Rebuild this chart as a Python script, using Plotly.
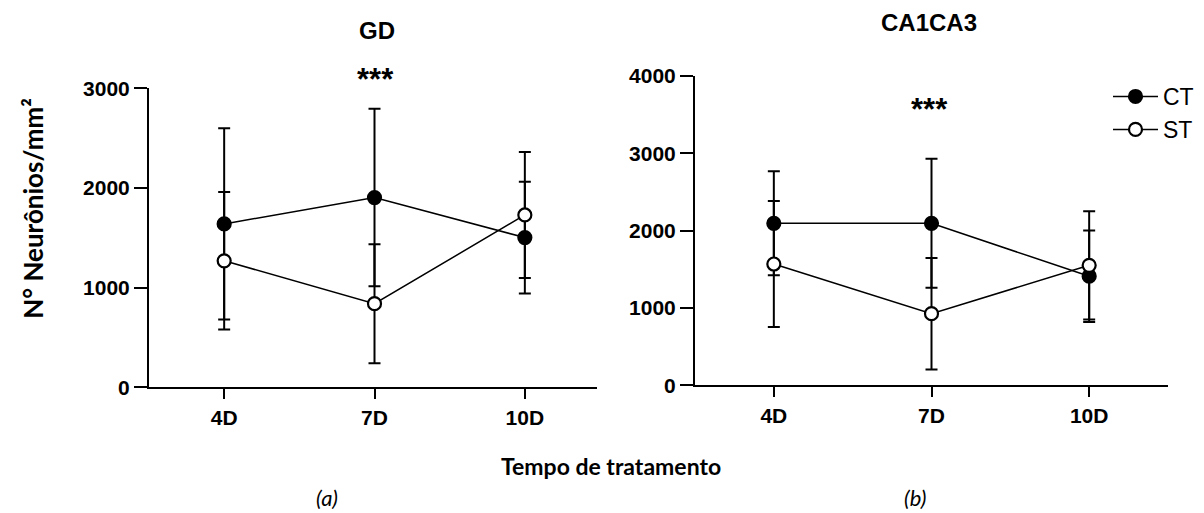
import plotly.graph_objects as go

days = ["4D", "7D", "10D"]

gd_ct_mean = [1640, 1905, 1503]
gd_ct_err = [960, 890, 560]
gd_st_mean = [1270, 840, 1730]
gd_st_err = [690, 597, 633]

ca_ct_mean = [2096, 2096, 1412]
ca_ct_err = [672, 834, 590]
ca_st_mean = [1570, 928, 1553]
ca_st_err = [813, 720, 700]

W, H = 1204, 513
AX_FONT = "Liberation Sans"
CAL_FONT = "Lato"


def px_x(p):
    return p / W


def px_y(p):
    return (H - p) / H


fig = go.Figure()


def add_series(mean, err, xa, ya, name, filled, show):
    fig.add_trace(go.Scatter(
        x=days, y=mean, name=name, xaxis=xa, yaxis=ya,
        mode="lines+markers",
        line=dict(color="black", width=1.5),
        marker=dict(symbol="circle", size=13,
                    color="black" if filled else "white",
                    line=dict(color="black", width=2.2)),
        error_y=dict(type="data", array=err, visible=True,
                     color="black", thickness=2, width=6),
        showlegend=show,
    ))


add_series(gd_ct_mean, gd_ct_err, "x", "y", "CT", True, False)
add_series(gd_st_mean, gd_st_err, "x", "y", "ST", False, False)
add_series(ca_ct_mean, ca_ct_err, "x2", "y2", "CT", True, True)
add_series(ca_st_mean, ca_st_err, "x2", "y2", "ST", False, True)

axis_common = dict(
    showline=True, linecolor="black", linewidth=2,
    ticks="outside", tickcolor="black", tickwidth=2,
    showgrid=False, zeroline=False,
    tickfont=dict(family=AX_FONT, size=21, color="black", weight="bold"),
)

fig.update_layout(
    width=W, height=H,
    margin=dict(l=0, r=0, t=0, b=0),
    paper_bgcolor="white", plot_bgcolor="white",
    xaxis=dict(domain=[px_x(149), px_x(597)], anchor="y",
               type="category", range=[-0.5, 2.48], ticklen=10, **axis_common),
    yaxis=dict(domain=[px_y(393), px_y(80)], anchor="x",
               range=[0, 3000], tickvals=[0, 1000, 2000, 3000], ticklen=13,
               **axis_common),
    xaxis2=dict(domain=[px_x(695), px_x(1168)], anchor="y2",
                type="category", range=[-0.5, 2.5], ticklen=10, **axis_common),
    yaxis2=dict(domain=[px_y(391), px_y(67)], anchor="x2",
                range=[0, 4000], tickvals=[0, 1000, 2000, 3000, 4000], ticklen=13,
                **axis_common),
    legend=dict(x=px_x(1108), y=px_y(66), xanchor="left", yanchor="top",
                font=dict(family=AX_FONT, size=23, color="black"),
                bgcolor="rgba(0,0,0,0)", itemwidth=45, tracegroupgap=8),
    showlegend=True,
)


def text(x, y, s, size, family=AX_FONT, bold=True, italic=False, angle=0, xanchor="center"):
    fig.add_annotation(
        x=px_x(x), y=px_y(y), xref="paper", yref="paper",
        text=s, showarrow=False, xanchor=xanchor, yanchor="middle",
        textangle=angle,
        font=dict(family=family, size=size, color="black",
                  weight="bold" if bold else "normal",
                  style="italic" if italic else "normal"),
    )


text(377, 19, "GD", 24)
text(929, 11, "CA1CA3", 24)
text(375, 71, "***", 31)
text(929, 102, "***", 31)
text(33, 206, "N° Neurônios/mm²", 26, family=CAL_FONT, angle=-90)
text(611, 475, "Tempo de tratamento", 23, family=CAL_FONT)
text(327, 508, "(a)", 22, family=CAL_FONT, bold=False, italic=True)
text(915, 508, "(b)", 22, family=CAL_FONT, bold=False, italic=True)

fig.write_html("out.html")
